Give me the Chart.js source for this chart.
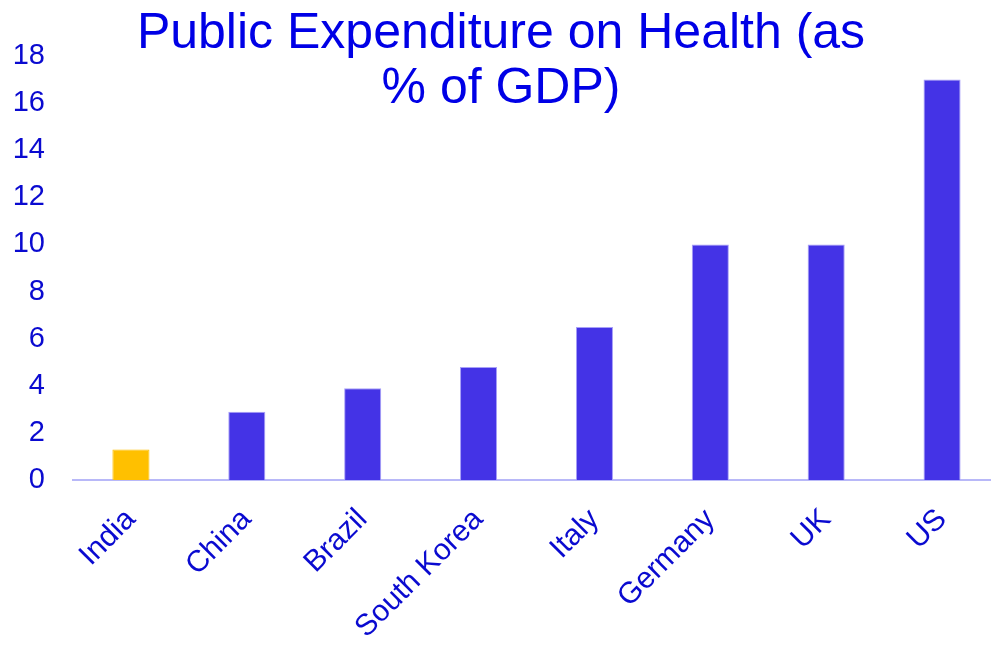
<!DOCTYPE html>
<html>
<head>
<meta charset="utf-8">
<script src="https://cdn.jsdelivr.net/npm/chart.js@4.4.0/dist/chart.umd.min.js"></script>
<style>
    html, body { margin: 0; padding: 0; background: #fff; overflow: hidden; }
    #wrap { width: 1000px; height: 645px; position: relative; }
</style>
</head>
<body>
<div id="wrap"><canvas id="chart"></canvas></div>
<script>
    const countries = ['India', 'China', 'Brazil', 'South Korea', 'Italy', 'Germany', 'UK', 'US'];
    const spending = [1.3, 2.9, 3.9, 4.8, 6.5, 10, 10, 17];
    const barColors = ['#ffc000', '#4433e6', '#4433e6', '#4433e6', '#4433e6', '#4433e6', '#4433e6', '#4433e6'];
    const titleLines = ['Public Expenditure on Health (as', '% of GDP)'];

    // title is drawn over the plot area, like the original
    const overlayTitle = {
        id: 'overlayTitle',
        afterDraw(chart) {
            const ctx = chart.ctx;
            ctx.save();
            ctx.fillStyle = '#0000e6';
            ctx.font = '50px "Liberation Sans", Arial, sans-serif';
            ctx.textAlign = 'center';
            ctx.textBaseline = 'alphabetic';
            ctx.fillText(titleLines[0], 501, 48);
            ctx.fillText(titleLines[1], 501, 103);
            ctx.restore();
        }
    };

    const ctx = document.getElementById('chart').getContext('2d');
    new Chart(ctx, {
        type: 'bar',
        data: {
            labels: countries,
            datasets: [{
                data: spending,
                backgroundColor: barColors,
                borderColor: ['#ffc000', '#a8a0f8', '#a8a0f8', '#a8a0f8', '#a8a0f8', '#a8a0f8', '#a8a0f8', '#a8a0f8'],
                borderWidth: 1,
                barPercentage: 0.32,
                categoryPercentage: 1
            }]
        },
        options: {
            responsive: true,
            maintainAspectRatio: false,
            animation: false,
            layout: { padding: { top: 56, right: 0 } },
            plugins: {
                legend: { display: false },
                tooltip: { enabled: false }
            },
            scales: {
                x: {
                    grid: { display: false, drawTicks: false },
                    border: { color: '#b8b8f8', width: 2 },
                    ticks: {
                        color: '#0a0ad0',
                        font: { family: '"Liberation Sans", Arial, sans-serif', size: 30 },
                        minRotation: 45,
                        maxRotation: 45,
                        padding: 22
                    },
                    afterFit(axis) { axis.height = 165; }
                },
                y: {
                    min: 0,
                    max: 18,
                    grid: { display: false, drawTicks: false },
                    border: { display: false },
                    ticks: {
                        stepSize: 2,
                        color: '#0a0ad0',
                        font: { family: '"Liberation Sans", Arial, sans-serif', size: 29 },
                        padding: 28
                    },
                    afterFit(axis) { axis.width = 73; }
                }
            }
        },
        plugins: [overlayTitle]
    });
</script>
</body>
</html>
